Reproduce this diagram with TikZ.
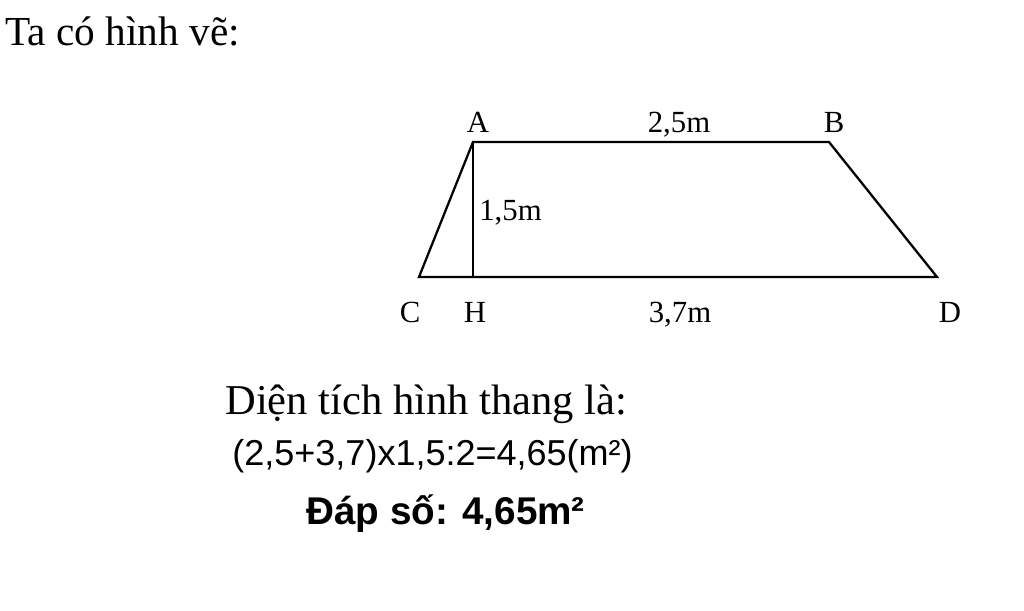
\documentclass[tikz,border=0pt]{standalone}
\usepackage{fontspec}
\setmainfont{Liberation Serif}
\setsansfont{Liberation Sans}
\begin{document}
\begin{tikzpicture}[
		x=0.02cm, y=-0.02cm,
		edge/.style={line width=1.3pt, line join=miter},
		lbl/.style={inner sep=0pt, anchor=base, font=\fontsize{17.5}{20}\selectfont},
		txt/.style={inner sep=0pt, anchor=base west, font=\fontsize{23.5}{27}\selectfont},
		calc/.style={inner sep=0pt, anchor=base west, font=\sffamily\fontsize{20.5}{24}\selectfont},
		ans/.style={inner sep=0pt, anchor=base west, font=\sffamily\bfseries\fontsize{22}{26}\selectfont}
	]
	\useasboundingbox (0,0) rectangle (1024,610);
	\node[txt] (title) at (5,45) {Ta có hình vẽ:};

	% the trapezoid
	\coordinate (A) at (473,142);
	\coordinate (B) at (829,142);
	\coordinate (C) at (419,277);
	\coordinate (D) at (937,277);
	\coordinate (H) at (473,277);
	\draw[edge] (A) -- (B) -- (D) -- (C) -- cycle;
	\draw[edge] (A) -- (H);

	\node[lbl] (labA) at (478,132) {A};
	\node[lbl] (labB) at (834,132) {B};
	\node[lbl] (labC) at (410,322) {C};
	\node[lbl] (labH) at (475,322) {H};
	\node[lbl] (labD) at (950,322) {D};
	\node[lbl] (top) at (679,132) {2,5m};
	\node[lbl] (bottom) at (680,322) {3,7m};
	\node[lbl, anchor=base west] (height) at (479,220) {1,5m};

	% the answer
	\node[txt, font=\fontsize{24.2}{28}\selectfont] (area) at (225,414) {Diện tích hình thang là:};
	\node[calc] (formula) at (232,465) {(2,5+3,7)x1,5:2=4,65(m²)};
	\node[ans] (result) at (306,524) {Đáp số: 4,65m²};
\end{tikzpicture}
\end{document}
